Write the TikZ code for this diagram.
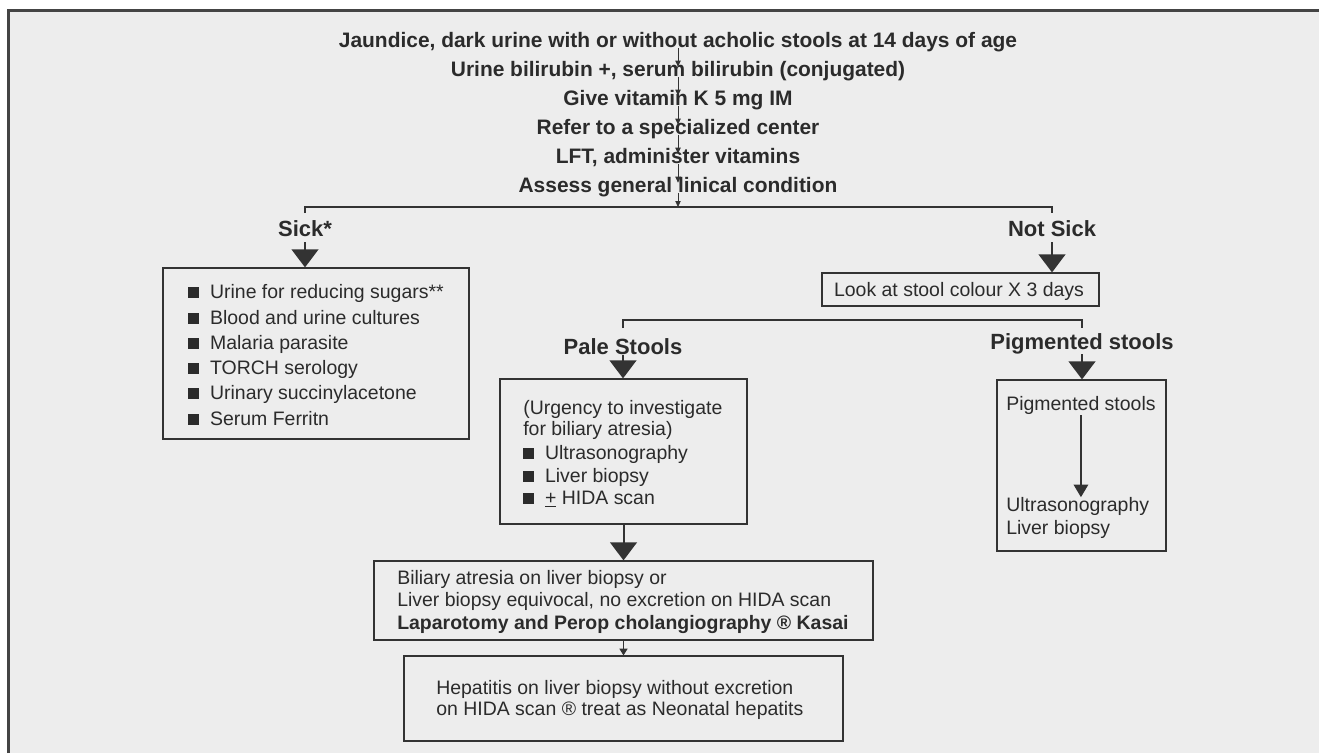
\documentclass[tikz,border=0pt]{standalone}
\usepackage{fontspec}
\setmainfont{Liberation Sans}
\usetikzlibrary{arrows.meta,fit}
\definecolor{bgc}{HTML}{EDEDED}
\definecolor{ink}{HTML}{2B2B2B}
\definecolor{linec}{HTML}{333333}
\definecolor{framec}{HTML}{444444}
\newcommand{\sqb}{\rule{0.56em}{0.56em}\hspace{0.56em}}
\begin{document}
\begin{tikzpicture}[x=0.75pt,y=-0.75pt,
  txt/.style={inner sep=0pt, text height=0.716em, text depth=0pt, text=ink, font=\fontsize{14.6pt}{17pt}\selectfont},
  bodyline/.style={txt, anchor=base west},
  boldline/.style={bodyline, font=\bfseries\fontsize{14.6pt}{17pt}\selectfont},
  titleline/.style={txt, anchor=base, font=\bfseries\fontsize{15.7pt}{18pt}\selectfont},
  lab/.style={txt, anchor=base, font=\bfseries\fontsize{16.5pt}{19pt}\selectfont},
  box/.style={draw=linec, line width=0.9pt, inner sep=0pt},
  conn/.style={draw=linec, line width=0.9pt},
  smallarr/.style={conn, line width=0.6pt, -{Triangle[width=4pt,length=4.5pt]}},
  tinyarr/.style={conn, line width=0.8pt, -{Triangle[width=6pt,length=5pt]}},
  bigarr/.style={conn, line width=1.5pt, -{Triangle[width=20pt,length=13.5pt]}},
  midarr/.style={conn, line width=1pt, -{Triangle[width=11pt,length=9.5pt]}},
]
\useasboundingbox (0,0) rectangle (1319,753);
\fill[white] (0,0) rectangle (1319,753);
\fill[bgc] (8.5,10.5) rectangle (1319,753);
\draw[framec, line width=1.9pt] (8.5,753) -- (8.5,10.5) -- (1319,10.5);

% title lines
\node[titleline] (t1) at (678,47.5) {Jaundice, dark urine with or without acholic stools at 14 days of age};
\node[titleline] (t2) at (678,76.5) {Urine bilirubin +, serum bilirubin (conjugated)};
\node[titleline] (t3) at (678,105.5) {Give vitamin K 5 mg IM};
\node[titleline] (t4) at (678,134.5) {Refer to a specialized center};
\node[titleline] (t5) at (678,163.5) {LFT, administer vitamins};
\node[titleline] (t6) at (678,192.5) {Assess general linical condition};
\draw[smallarr] (t1.south) -- (t2.north);
\draw[smallarr] (t2.south) -- (t3.north);
\draw[smallarr] (t3.south) -- (t4.north);
\draw[smallarr] (t4.south) -- (t5.north);
\draw[smallarr] (t5.south) -- (t6.north);
\coordinate (br1) at (678,207);
\draw[smallarr] (t6.south) -- (t6.south |- br1);

% first branch
\coordinate (bl) at (305,207);
\coordinate (brr) at (1052,207);
\draw[conn] ([yshift=-4.5pt]bl) -- (bl) -- (brr) -- ([yshift=-4.5pt]brr);
\node[lab] (sicklab) at (305,236) {Sick*};
\node[lab] (nslab) at (1052,236) {Not Sick};

% sick box
\coordinate (sA) at (163,268);
\coordinate (sB) at (469,439);
\node[box, fit=(sA)(sB)] (sick) {};
\draw[bigarr] ([yshift=-4.5pt]sicklab.south) -- (sicklab.south |- sick.north);
\node[bodyline] (s1) at (188,298) {\sqb Urine for reducing sugars**};
\node[bodyline] (s2) at (188,324) {\sqb Blood and urine cultures};
\node[bodyline] (s3) at (188,349) {\sqb Malaria parasite};
\node[bodyline] (s4) at (188,374) {\sqb TORCH serology};
\node[bodyline] (s5) at (188,399) {\sqb Urinary succinylacetone};
\node[bodyline] (s6) at (188,425) {\sqb Serum Ferritn};

% look box
\coordinate (lA) at (822,273);
\coordinate (lB) at (1099,306);
\node[box, fit=(lA)(lB)] (look) {};
\node[txt, anchor=base] (looktxt) at (959,296) {Look at stool colour X 3 days};
\draw[bigarr] ([yshift=-4.5pt]nslab.south) -- (nslab.south |- look.north);

% second branch
\coordinate (pl) at (623,320);
\coordinate (pr) at (1082,320);
\draw[conn] ([yshift=-6pt]pl) -- (pl) -- (pr) -- ([yshift=-6pt]pr);
\node[lab] (palelab) at (623,354) {Pale Stools};
\node[lab] (piglab) at (1082,349) {Pigmented stools};

% pale box
\coordinate (pA) at (500,379);
\coordinate (pB) at (747,524);
\node[box, fit=(pA)(pB)] (pale) {};
\draw[bigarr] ([yshift=-0.75pt]palelab.south) -- (palelab.south |- pale.north);
\node[bodyline] (p1) at (523,414) {(Urgency to investigate};
\node[bodyline] (p2) at (523,435) {for biliary atresia)};
\node[bodyline] (p3) at (523,459) {\sqb Ultrasonography};
\node[bodyline] (p4) at (523,482) {\sqb Liver biopsy};
\node[bodyline] (p5) at (523,504) {\sqb \underline{+} HIDA scan};

% pigmented box
\coordinate (gA) at (997,380);
\coordinate (gB) at (1166,551);
\node[box, fit=(gA)(gB)] (pig) {};
\draw[bigarr] ([yshift=-3.75pt]piglab.south) -- (piglab.south |- pig.north);
\node[bodyline] (g1) at (1006,410) {Pigmented stools};
\node[bodyline] (g2) at (1006,511) {Ultrasonography};
\node[bodyline] (g3) at (1006,534) {Liver biopsy};
\draw[midarr] ([yshift=-3.75pt]g1.south) -- ([yshift=3pt]g1.south |- g2.north);

% box 2
\coordinate (bA) at (374,561);
\coordinate (bB) at (873,640);
\node[box, fit=(bA)(bB)] (box2) {};
\draw[bigarr] (pale.south) -- (box2.north);
\node[bodyline] (b1) at (397,584) {Biliary atresia on liver biopsy or};
\node[bodyline] (b2) at (397,606) {Liver biopsy equivocal, no excretion on HIDA scan};
\node[boldline] (b3) at (397,629) {Laparotomy and Perop cholangiography ® Kasai};

% box 3
\coordinate (cA) at (404,656);
\coordinate (cB) at (843,741);
\node[box, fit=(cA)(cB)] (box3) {};
\draw[tinyarr] (box2.south) -- (box3.north);
\node[bodyline] (c1) at (436,694) {Hepatitis on liver biopsy without excretion};
\node[bodyline] (c2) at (436,715) {on HIDA scan ® treat as Neonatal hepatits};
\end{tikzpicture}
\end{document}
